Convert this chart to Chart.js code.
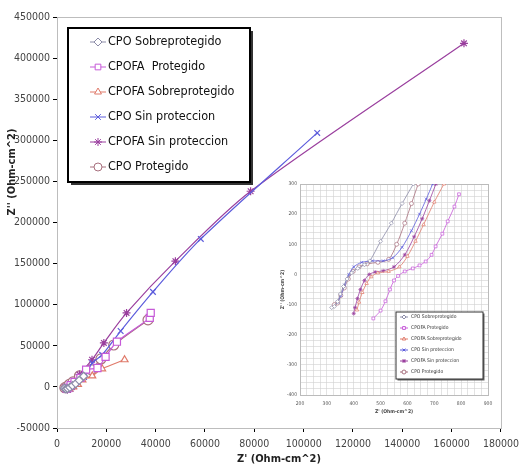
<!DOCTYPE html>
<html>
<head>
<meta charset="utf-8">
<script src="https://cdn.jsdelivr.net/npm/chart.js@4.4.0/dist/chart.umd.min.js"></script>
<style>
  html, body { margin: 0; padding: 0; background: #fff; }
  #wrap { position: relative; width: 525px; height: 468px; }
  #main { position: absolute; left: 0; top: 0; width: 525px; height: 468px; }
  #inset { position: absolute; left: 270px; top: 176px; width: 240px; height: 246px; }
</style>
</head>
<body>
<div id="wrap">
  <canvas id="main" width="525" height="468"></canvas>
  <canvas id="inset" width="240" height="246"></canvas>
</div>
<script>
// Nombres de las series (orden de la leyenda)
const seriesNames = [
  'CPO Sobreprotegido', 'CPOFA  Protegido', 'CPOFA Sobreprotegido',
  'CPO Sin proteccion', 'CPOFA Sin proteccion', 'CPO Protegido'
];
const insetNames = [
  'CPO Sobreprotegido', 'CPOFA Protegido', 'CPOFA Sobreprotegido',
  'CPO Sin proteccion', 'CPOFA Sin proteccion', 'CPO Protegido'
];

// Grafico principal: Z' / Z''
const cpoSobreX = [3000, 3600, 4300, 5200, 6300, 7600, 9000, 10800];
const cpoSobreY = [-1500, -2500, -2000, -500, 1500, 4000, 8000, 13000];
const cpofaProtX = [3900, 4500, 5500, 7100, 9500, 11800, 16400, 19700, 24300, 37600, 38000];
const cpofaProtY = [-2000, -1000, 2000, 6000, 11000, 21000, 23000, 36500, 55000, 84000, 90000];
const cpofaSobreX = [4000, 5000, 6500, 8500, 10300, 14300, 18300, 27400];
const cpofaSobreY = [-3000, -2000, 0, 3000, 8500, 13400, 22000, 33000];
const cpoSinX = [4500, 6000, 8000, 11000, 14300, 18300, 25800, 38900, 58300, 105500];
const cpoSinY = [-2000, 0, 4000, 12000, 29000, 39000, 68000, 115600, 180000, 309000];
const cpofaSinX = [4200, 5500, 7000, 9100, 14200, 19000, 28200, 48000, 78500, 165000];
const cpofaSinY = [-3500, -2500, 1000, 15000, 33000, 53500, 90000, 153000, 238000, 418000];
const cpoProtX = [3200, 3900, 5000, 6500, 9100, 13800, 17800, 23000, 36900];
const cpoProtY = [-1000, 0, 3000, 6000, 13400, 21000, 34000, 51000, 81500];

const xTicks = [0, 20000, 40000, 60000, 80000, 100000, 120000, 140000, 160000, 180000];
const yTicks = [-50000, 0, 50000, 100000, 150000, 200000, 250000, 300000, 350000, 400000, 450000];

// Detalle (inserto)
const insCpoSobreX = [318, 328, 340, 350, 362, 375, 392, 415, 440, 460, 500, 540, 580, 622];
const insCpoSobreY = [-110, -106, -90, -65, -40, -15, 5, 20, 32, 45, 110, 170, 235, 300];
const insCpofaProtX = [473, 500, 518, 535, 550, 565, 590, 620, 645, 668, 690, 705, 730, 750, 775, 792];
const insCpofaProtY = [-146, -120, -89, -50, -20, -5, 10, 20, 30, 43, 65, 93, 135, 176, 225, 266];
const insCpofaSobreX = [412, 420, 432, 448, 465, 490, 530, 570, 600, 630, 660, 700, 736];
const insCpofaSobreY = [-118, -92, -60, -30, -8, 5, 10, 25, 60, 110, 165, 240, 300];
const insCpoSinX = [340, 352, 366, 382, 400, 430, 470, 510, 545, 580, 615, 645, 670, 694];
const insCpoSinY = [-92, -70, -35, 0, 25, 40, 45, 45, 55, 90, 145, 200, 250, 300];
const insCpofaSinX = [400, 405, 414, 425, 440, 458, 480, 510, 550, 590, 625, 655, 682, 706];
const insCpofaSinY = [-130, -110, -80, -50, -20, 0, 8, 12, 25, 65, 125, 185, 245, 300];
const insCpoProtX = [328, 340, 352, 365, 380, 398, 420, 450, 490, 530, 560, 590, 615, 640];
const insCpoProtY = [-100, -95, -70, -45, -15, 10, 25, 35, 40, 50, 100, 170, 235, 300];

const insXTicks = [200, 300, 400, 500, 600, 700, 800, 900];
const insYTicks = [-400, -300, -200, -100, 0, 100, 200, 300];

// Estilos
const colors = ['#8c8ca8', '#c65ad8', '#e07a6a', '#5c5cdc', '#9a3f9e', '#a8707e'];
const markers = ['rectRot', 'rect', 'triangle', 'crossRot', 'star', 'circle'];
const narrow = '"DejaVu Sans Condensed", "Liberation Sans Narrow", "Liberation Sans", Arial, sans-serif';

Chart.defaults.font.family = narrow;

const pts = (xs, ys) => xs.map((x, i) => ({ x, y: ys[i] }));

// Leyenda dibujada dentro del area
const legendBox = {
  id: 'legendBox',
  afterDraw(chart, args, o) {
    const ctx = chart.ctx;
    ctx.save();
    ctx.fillStyle = o.shadow;
    ctx.fillRect(o.x + o.s, o.y + o.s, o.w, o.h);
    ctx.fillStyle = '#fff';
    ctx.fillRect(o.x, o.y, o.w, o.h);
    ctx.lineWidth = o.border;
    ctx.strokeStyle = o.borderColor;
    ctx.strokeRect(o.x, o.y, o.w, o.h);
    ctx.font = o.font;
    ctx.textBaseline = 'middle';
    chart.data.datasets.forEach((ds, i) => {
      const y = o.y + o.top + i * o.gap;
      ctx.strokeStyle = ds.borderColor;
      ctx.lineWidth = 1;
      ctx.beginPath();
      ctx.moveTo(o.x + o.lx0, y);
      ctx.lineTo(o.x + o.lx1, y);
      ctx.stroke();
      ctx.fillStyle = '#fff';
      Chart.helpers.drawPoint(ctx, { pointStyle: ds.pointStyle, radius: o.r, rotation: 0, borderWidth: 1 },
        o.x + (o.lx0 + o.lx1) / 2, y);
      ctx.fillStyle = o.color;
      ctx.fillText(ds.label, o.x + o.tx, y);
    });
    ctx.restore();
  }
};

// Marco gris y titulo del eje Y del grafico principal
const frame = {
  id: 'frame',
  beforeDatasetsDraw(chart, args, o) {
    if (!o.color) return;
    const a = chart.chartArea, ctx = chart.ctx;
    ctx.save();
    ctx.strokeStyle = o.color;
    ctx.lineWidth = 1;
    ctx.strokeRect(a.left + 0.5, a.top + 0.5, a.right - a.left, a.bottom - a.top);
    ctx.restore();
  },
  afterDraw(chart, args, o) {
    if (!o.yTitle) return;
    const ctx = chart.ctx;
    ctx.save();
    ctx.translate(o.yTitleX, o.yTitleY);
    ctx.rotate(-Math.PI / 2);
    ctx.font = 'bold 11px ' + narrow;
    ctx.fillStyle = '#222';
    ctx.textAlign = 'center';
    ctx.textBaseline = 'middle';
    ctx.fillText(o.yTitle, 0, 0);
    ctx.restore();
  }
};

const mainX = [cpoSobreX, cpofaProtX, cpofaSobreX, cpoSinX, cpofaSinX, cpoProtX];
const mainY = [cpoSobreY, cpofaProtY, cpofaSobreY, cpoSinY, cpofaSinY, cpoProtY];

new Chart(document.getElementById('main'), {
  type: 'scatter',
  data: {
    datasets: seriesNames.map((name, i) => ({
      label: name,
      data: pts(mainX[i], mainY[i]),
      showLine: true,
      tension: 0.3,
      borderColor: colors[i],
      borderWidth: 1.2,
      pointStyle: markers[i],
      pointRadius: i === 1 || i === 5 ? 5 : 4,
      pointBorderColor: colors[i],
      pointBackgroundColor: '#fff',
      pointBorderWidth: 1.2
    }))
  },
  options: {
    responsive: false,
    animation: false,
    layout: { padding: { top: 17, right: 14, left: 0, bottom: 0 } },
    plugins: {
      legend: { display: false },
      tooltip: { enabled: false },
      legendBox: {
        x: 68, y: 28, w: 182, h: 154, s: 3, shadow: '#333', border: 2, borderColor: '#000',
        top: 14, gap: 25, lx0: 22, lx1: 38, tx: 40, r: 4,
        font: '12.5px ' + narrow,
        color: '#111'
      },
      frame: { color: '#bdbdbd', yTitle: "Z'' (Ohm-cm^2)", yTitleX: 12, yTitleY: 172 }
    },
    scales: {
      x: {
        type: 'linear',
        min: 0, max: 180000,
        afterBuildTicks: s => { s.ticks = xTicks.map(v => ({ value: v })); },
        afterFit: s => { s.height = 40; },
        grid: { display: true, drawOnChartArea: false, drawTicks: true, tickLength: 4, color: '#000' },
        border: { display: true, color: '#000', width: 1 },
        ticks: { color: '#444', font: { size: 10.5 }, padding: 6, maxRotation: 0, callback: v => String(v) },
        title: { display: true, text: "Z' (Ohm-cm^2)", color: '#222', font: { size: 11, weight: 'bold' }, padding: { top: 0, bottom: 2 } }
      },
      y: {
        type: 'linear',
        min: -50000, max: 450000,
        afterBuildTicks: s => { s.ticks = yTicks.map(v => ({ value: v })); },
        afterFit: s => { s.width = 57; },
        grid: { display: true, drawOnChartArea: false, drawTicks: true, tickLength: 4, color: '#000' },
        border: { display: true, color: '#000', width: 1 },
        ticks: { color: '#444', font: { size: 10.5 }, padding: 3, callback: v => String(v) }
      }
    }
  },
  plugins: [frame, legendBox]
});

// Inserto con la zona de bajas impedancias
const insX = [insCpoSobreX, insCpofaProtX, insCpofaSobreX, insCpoSinX, insCpofaSinX, insCpoProtX];
const insY = [insCpoSobreY, insCpofaProtY, insCpofaSobreY, insCpoSinY, insCpofaSinY, insCpoProtY];

new Chart(document.getElementById('inset'), {
  type: 'scatter',
  data: {
    datasets: insetNames.map((name, i) => ({
      label: name,
      data: pts(insX[i], insY[i]),
      showLine: true,
      tension: 0.3,
      borderColor: colors[i],
      borderWidth: 0.8,
      pointStyle: markers[i],
      pointRadius: 2,
      pointBorderColor: colors[i],
      pointBackgroundColor: '#fff',
      pointBorderWidth: 0.7
    }))
  },
  options: {
    responsive: false,
    animation: false,
    layout: { padding: { top: 8, right: 22, left: 0, bottom: 0 } },
    plugins: {
      legend: { display: false },
      tooltip: { enabled: false },
      legendBox: {
        x: 126, y: 136, w: 87, h: 67, s: 1.5, shadow: '#666', border: 1, borderColor: '#333',
        top: 5, gap: 11, lx0: 4, lx1: 12, tx: 15, r: 2,
        font: '5px ' + narrow,
        color: '#333'
      },
      frame: { color: '#bbb' }
    },
    scales: {
      x: {
        type: 'linear',
        min: 200, max: 900,
        afterFit: s => { s.height = 27; },
        grid: { color: '#d0d0d0', lineWidth: 0.6, drawTicks: false },
        border: { display: true, color: '#999', width: 0.8 },
        ticks: {
          stepSize: 25, autoSkip: false, maxRotation: 0, padding: 6,
          color: '#555', font: { size: 5 },
          callback: v => insXTicks.includes(v) ? String(v) : ''
        },
        title: { display: true, text: "Z' (Ohm-cm^2)", color: '#444', font: { size: 5, weight: 'bold' }, padding: { top: 0, bottom: 7 } }
      },
      y: {
        type: 'linear',
        min: -400, max: 300,
        afterFit: s => { s.width = 30; },
        grid: { color: '#d0d0d0', lineWidth: 0.6, drawTicks: false },
        border: { display: true, color: '#999', width: 0.8 },
        ticks: {
          stepSize: 20, autoSkip: false, padding: 3,
          color: '#555', font: { size: 5 },
          callback: v => insYTicks.includes(v) ? String(v) : ''
        },
        title: { display: true, text: "Z'' (Ohm-cm^2)", color: '#444', font: { size: 5, weight: 'bold' }, padding: { top: 10, bottom: 0 } }
      }
    }
  },
  plugins: [frame, legendBox]
});
</script>
</body>
</html>
